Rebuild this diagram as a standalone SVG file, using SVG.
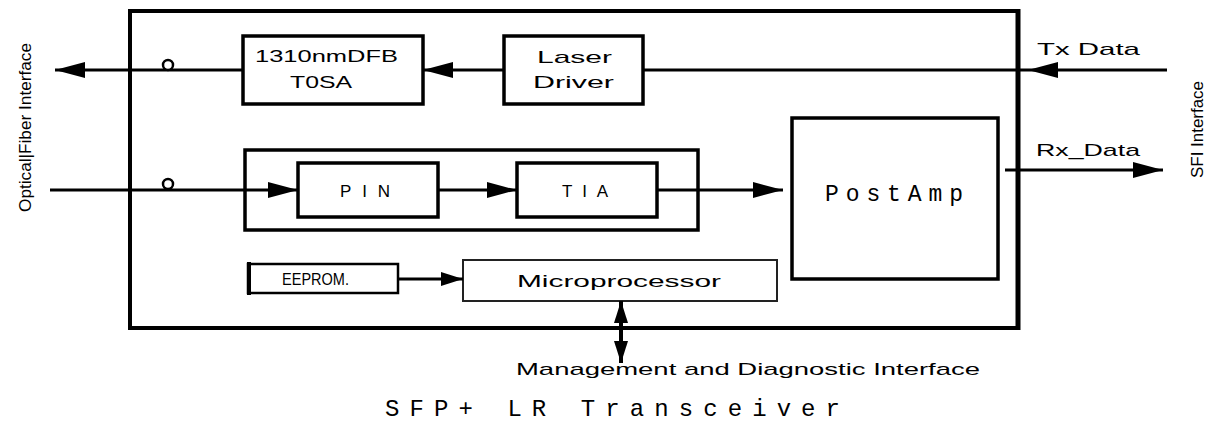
<svg xmlns="http://www.w3.org/2000/svg" width="1212" height="430" viewBox="0 0 1212 430">
<defs>
<style>
.box{fill:none;stroke:#000;stroke-width:3.5}
.thin{fill:none;stroke:#222;stroke-width:2}
.ln{fill:none;stroke:#000;stroke-width:3}
.t{font-family:"Liberation Sans",Arial,sans-serif;font-size:17px;fill:#000}
.m{font-family:"Liberation Mono","Courier New",monospace;fill:#000}
</style>
<marker id="ah" markerUnits="userSpaceOnUse" markerWidth="30" markerHeight="16" refX="30" refY="8" orient="auto-start-reverse">
<path d="M0,0 L30,8 L0,16 Z" fill="#000"/>
</marker>
<marker id="ahs" markerUnits="userSpaceOnUse" markerWidth="22" markerHeight="14" refX="22" refY="7" orient="auto-start-reverse">
<path d="M0,0 L22,7 L0,14 Z" fill="#000"/>
</marker>
</defs>
<rect width="1212" height="430" fill="#fff"/>

<g id="outer">
<rect x="130" y="11" width="888" height="317" fill="none" stroke="#000" stroke-width="4"/>
<line x1="1018" y1="9" x2="1018" y2="330" stroke="#000" stroke-width="5"/>
</g>

<g id="tosa">
<rect class="box" x="243" y="36" width="180" height="68"/>
<text class="t" x="255" y="62" textLength="143" lengthAdjust="spacingAndGlyphs">1310nmDFB</text>
<text class="t" x="290" y="88" textLength="62" lengthAdjust="spacingAndGlyphs">T0SA</text>
</g>

<g id="laser-driver">
<rect class="box" x="504" y="36" width="139" height="68"/>
<text class="t" x="537" y="63" textLength="75" lengthAdjust="spacingAndGlyphs">Laser</text>
<text class="t" x="533" y="88" textLength="81" lengthAdjust="spacingAndGlyphs">Driver</text>
</g>

<g id="rosa">
<rect class="box" x="245" y="150" width="453" height="80"/>
</g>

<g id="pin">
<rect class="box" x="298" y="163" width="140" height="54"/>
<text class="t" x="340" y="197" textLength="50" lengthAdjust="spacing">PIN</text>
</g>

<g id="tia">
<rect class="box" x="517" y="163" width="140" height="54"/>
<text class="t" x="562" y="197" textLength="46" lengthAdjust="spacing">TIA</text>
</g>

<g id="postamp">
<rect class="box" x="792" y="118" width="206" height="161"/>
<text class="m" x="825" y="201" font-size="23" textLength="138" lengthAdjust="spacing">PostAmp</text>
</g>

<g id="eeprom">
<rect x="248" y="264" width="150" height="29" fill="none" stroke="#000" stroke-width="2.5"/>
<line x1="249" y1="262" x2="249" y2="295" stroke="#000" stroke-width="4"/>
<text class="t" x="282" y="285" font-size="15" textLength="67" lengthAdjust="spacingAndGlyphs">EEPROM.</text>
</g>

<g id="microprocessor">
<rect class="thin" x="463" y="260" width="314" height="41"/>
<text class="t" x="517" y="287" font-size="18" textLength="204" lengthAdjust="spacingAndGlyphs">Microprocessor</text>
</g>

<g id="connectors">
<line class="ln" x1="243" y1="70" x2="55" y2="70" marker-end="url(#ah)"/>
<line class="ln" x1="504" y1="70" x2="423" y2="70" marker-end="url(#ah)"/>
<line class="ln" x1="1167" y1="70" x2="1028" y2="70" marker-end="url(#ah)"/>
<line class="ln" x1="1028" y1="70" x2="643" y2="70"/>
<circle cx="168" cy="65" r="5" fill="#fff" stroke="#000" stroke-width="2.5"/>
<line class="ln" x1="50" y1="190" x2="298" y2="190" marker-end="url(#ah)"/>
<circle cx="168" cy="184" r="5" fill="#fff" stroke="#000" stroke-width="2.5"/>
<line class="ln" x1="438" y1="190" x2="517" y2="190" marker-end="url(#ah)"/>
<line class="ln" x1="657" y1="190" x2="783" y2="190" marker-end="url(#ah)"/>
<line class="ln" x1="1005" y1="170" x2="1163" y2="170" marker-end="url(#ah)"/>
<line class="ln" x1="398" y1="279" x2="463" y2="279" marker-end="url(#ahs)"/>
<line x1="621" y1="301" x2="621" y2="363" stroke="#000" stroke-width="4" marker-start="url(#ahs)" marker-end="url(#ahs)"/>
</g>

<g id="labels">
<text class="t" x="1037" y="55" font-size="16" textLength="103" lengthAdjust="spacingAndGlyphs">Tx  Data</text>
<text class="t" x="1036" y="156" font-size="16" textLength="104" lengthAdjust="spacingAndGlyphs">Rx_Data</text>
<text class="t" x="0" y="0" font-size="23" textLength="97" lengthAdjust="spacingAndGlyphs" transform="translate(1203,178) rotate(-90)">SFI Interface</text>
<text class="t" x="0" y="0" font-size="23" textLength="169" lengthAdjust="spacingAndGlyphs" transform="translate(31,212) rotate(-90)">Optical|Fiber Interface</text>
<text class="t" x="516" y="375" font-size="16" textLength="464" lengthAdjust="spacingAndGlyphs">Management and  Diagnostic Interface</text>
<text class="m" x="385" y="416" font-size="24" textLength="455" lengthAdjust="spacing">SFP+ LR Transceiver</text>
</g>
</svg>
